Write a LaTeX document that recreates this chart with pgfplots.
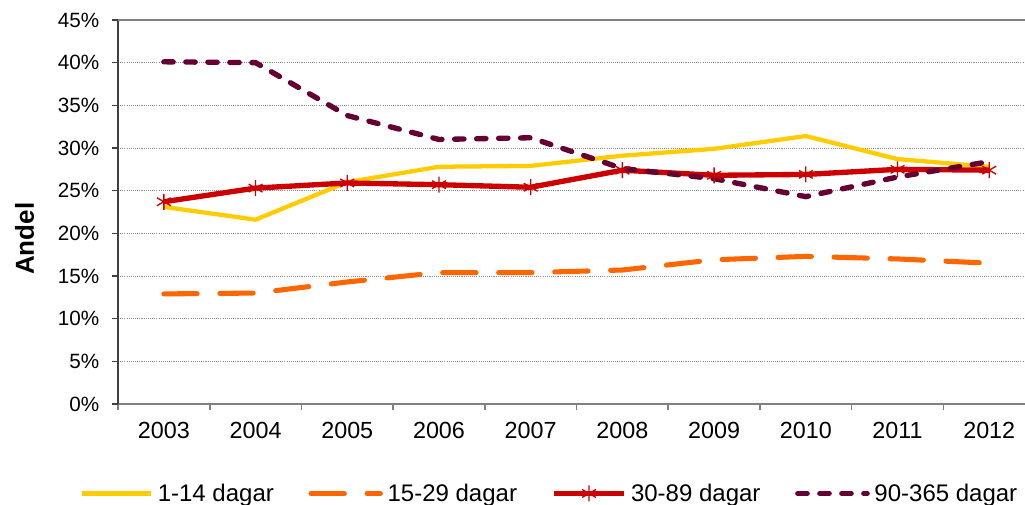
\documentclass[border=0pt]{standalone}
\usepackage{pgfplots}
\pgfplotsset{compat=1.18}
\usepackage{fontspec}
\setmainfont{Liberation Sans}
\definecolor{cY}{HTML}{FFCC00}
\definecolor{cO}{HTML}{FF6600}
\definecolor{cR}{HTML}{CC0000}
\definecolor{cP}{HTML}{660033}
\begin{document}
\begin{tikzpicture}
\begin{axis}[
  at={(0pt,0pt)}, anchor=south west,
  scale only axis, width=680.25pt, height=288pt,
  xmin=-0.5, xmax=9.39, ymin=0, ymax=45,
  axis x line*=bottom, axis y line*=left,
  x axis line style={draw=black!50, line width=1.5pt, -},
  y axis line style={draw=black!75, line width=1.2pt, -},
  xtick={0,...,9},
  xticklabels={2003,2004,2005,2006,2007,2008,2009,2010,2011,2012},
  major x tick style={draw=none},
  minor xtick={-0.5,0.5,...,8.5},
  minor x tick style={draw=black!50, line width=1.2pt},
  minor tick length=4.5pt,
  ytick={0,5,...,45},
  y tick style={draw=black!75, line width=1pt},
  major tick length=4.5pt,
  tick align=outside,
  yticklabel={\pgfmathprintnumber{\tick}\%},
  /pgf/number format/assume math mode=true,
  ymajorgrids,
  major grid style={draw=black!45, line width=0.6pt, dash pattern=on 0.8pt off 0.8pt},
  yticklabel style={font=\fontsize{15.5}{18}\selectfont, xshift=-6pt},
  xticklabel style={font=\fontsize{17.5}{20}\selectfont, yshift=-6pt},
  ylabel={\textbf{Andel}},
  ylabel style={font=\fontsize{19.5}{22}\selectfont, at={([xshift=-70pt]rel axis cs:0,0.43)}, anchor=center},
  legend columns=4,
  legend style={at={(0.476,-0.233)}, anchor=center, draw=none, fill=none,
    font=\fontsize{18}{21}\selectfont,
    /tikz/every even column/.append style={column sep=24pt},
    /tikz/every odd column/.append style={column sep=1.5pt}},
  legend image code/.code={\draw[#1, mark repeat=2, mark phase=2] plot coordinates {(0pt,0pt) (26pt,0pt) (52pt,0pt)};},
]
\addplot[cY, line width=3.2pt, no marks] coordinates {
(0,23.1) (1,21.6) (2,26.0) (3,27.8) (4,27.9) (5,29.1) (6,29.9) (7,31.4) (8,28.7) (9,27.8)};
\addlegendentry{1-14 dagar}
\addplot[cO, line width=3.8pt, line cap=round, dash pattern=on 25pt off 17pt, no marks] coordinates {
(0,12.9) (1,13.0) (2,14.3) (3,15.4) (4,15.4) (5,15.7) (6,16.9) (7,17.3) (8,17.0) (9,16.5)};
\addlegendentry{15-29 dagar}
\addplot[cR, line width=4pt, mark=asterisk, mark size=6pt, mark options={solid, line width=1pt}] coordinates {
(0,23.7) (1,25.3) (2,25.9) (3,25.7) (4,25.4) (5,27.4) (6,26.8) (7,26.9) (8,27.5) (9,27.4)};
\addlegendentry{30-89 dagar}
\addplot[cP, line width=4pt, line cap=round, dash pattern=on 7pt off 9.5pt, no marks] coordinates {
(0,40.1) (1,40.0) (2,33.8) (3,31.0) (4,31.2) (5,27.6) (6,26.4) (7,24.3) (8,26.6) (9,28.4)};
\addlegendentry{90-365 dagar}
\draw[black!50, line width=1.5pt] (rel axis cs:0,1) -- (rel axis cs:1,1);
\end{axis}
\pgfresetboundingbox
\path (-88.5pt,-75.75pt) rectangle (680.25pt,303pt);
\end{tikzpicture}
\end{document}
